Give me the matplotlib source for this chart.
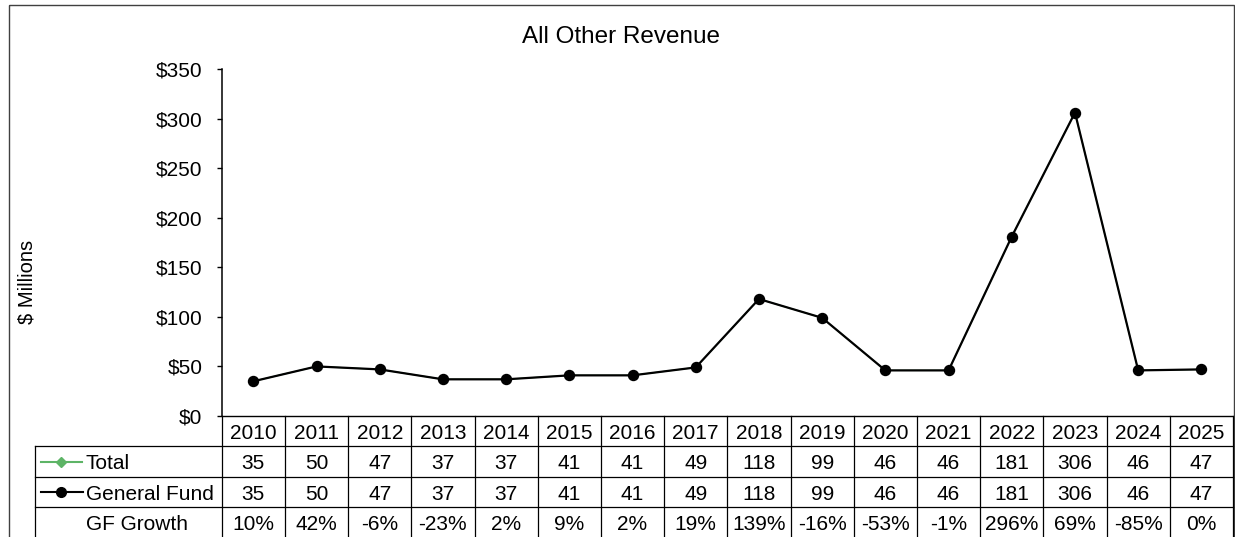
#!/usr/bin/env python3
"""All Other Revenue line chart with an Excel-style data table underneath."""

import matplotlib

matplotlib.use("Agg")

import matplotlib.pyplot as plt
import matplotlib.transforms as mtransforms
from matplotlib.lines import Line2D
from matplotlib.patches import Rectangle


YEARS = [2010, 2011, 2012, 2013, 2014, 2015, 2016, 2017,
         2018, 2019, 2020, 2021, 2022, 2023, 2024, 2025]
TOTAL = [35, 50, 47, 37, 37, 41, 41, 49, 118, 99, 46, 46, 181, 306, 46, 47]
GENERAL_FUND = [35, 50, 47, 37, 37, 41, 41, 49, 118, 99, 46, 46, 181, 306, 46, 47]
GF_GROWTH = ["10%", "42%", "-6%", "-23%", "2%", "9%", "2%", "19%",
             "139%", "-16%", "-53%", "-1%", "296%", "69%", "-85%", "0%"]
Y_TICKS = [0, 50, 100, 150, 200, 250, 300, 350]

W, H = 1235, 537
GREEN = "#5DB466"
FONT = "Liberation Sans"

plt.rcParams["font.family"] = [FONT, "DejaVu Sans"]

fig = plt.figure(figsize=(W / 100, H / 100), dpi=100)
fig.patch.set_facecolor("white")

# geometry in image pixels (origin top-left)
AX_L, AX_R, AX_T, AX_B = 221.7, 1233.0, 69.0, 416.0
ROW_EDGES = [416.0, 446.4, 476.8, 507.2, 537.6]
LABEL_X0 = 34.5
TEXT_X = 86.0

ax = fig.add_axes([AX_L / W, (H - AX_B) / H, (AX_R - AX_L) / W, (AX_B - AX_T) / H])
ax.set_facecolor("none")

x = list(range(len(YEARS)))
# Total sits underneath General Fund (same values), as in the source chart
ax.plot(x, TOTAL, color=GREEN, lw=0.9, marker="D", ms=4.5, zorder=3)
ax.plot(x, GENERAL_FUND, color="black", lw=1.6, marker="o", ms=7.2, zorder=4)

ax.set_xlim(-0.5, len(YEARS) - 0.5)
ax.set_ylim(0, 350)
ax.set_xticks([])
ax.set_yticks(Y_TICKS, [f"${v}" for v in Y_TICKS])
ax.tick_params(axis="y", direction="out", length=3.6, width=1.0, pad=10.3,
               labelsize=15, colors="black")
for side in ("top", "right"):
    ax.spines[side].set_visible(False)
ax.spines["left"].set_linewidth(1.1)
ax.spines["bottom"].set_linewidth(1.0)

# transform with image pixels measured from the top-left corner
px = mtransforms.Affine2D().scale(1, -1).translate(0, H)
col_px = mtransforms.blended_transform_factory(ax.transData, px)

line_kw = dict(color="black", lw=0.9, clip_on=False)

# horizontal table lines
for y in ROW_EDGES[1:]:
    fig.add_artist(Line2D([LABEL_X0, AX_R], [y, y], transform=px, **line_kw))
# vertical column separators
for i in range(len(YEARS) + 1):
    fig.add_artist(Line2D([i - 0.5, i - 0.5], [ROW_EDGES[0], ROW_EDGES[-1]],
                          transform=col_px, **line_kw))
fig.add_artist(Line2D([LABEL_X0, LABEL_X0], [ROW_EDGES[1], ROW_EDGES[-1]],
                      transform=px, **line_kw))

centers = [(a + b) / 2 for a, b in zip(ROW_EDGES[:-1], ROW_EDGES[1:])]
rows = [[str(y) for y in YEARS], [str(v) for v in TOTAL],
        [str(v) for v in GENERAL_FUND], GF_GROWTH]
for r, values in enumerate(rows):
    for i, txt in enumerate(values):
        ax.text(i, centers[r] + 7.5, txt, transform=col_px, ha="center",
                va="baseline", fontsize=15, clip_on=False)

# row labels with legend keys
fig.add_artist(Line2D([41, 82], [centers[1], centers[1]], transform=px,
                      color=GREEN, lw=1.5))
fig.add_artist(Line2D([61], [centers[1]], transform=px, color=GREEN,
                      marker="D", ms=5.5, lw=0))
fig.add_artist(Line2D([41, 83], [centers[2], centers[2]], transform=px,
                      color="black", lw=1.5))
fig.add_artist(Line2D([61], [centers[2]], transform=px, color="black",
                      marker="o", ms=7.0, lw=0))
for r, label in zip((1, 2, 3), ("Total", "General Fund", "GF Growth")):
    fig.text(TEXT_X, centers[r] + 7.5, label, transform=px, ha="left",
             va="baseline", fontsize=15)

fig.text(621, 43.3, "All Other Revenue", transform=px, ha="center",
         va="baseline", fontsize=17.5)
fig.text(27, 282, "$ Millions", transform=px, ha="center", va="center",
         rotation=90, fontsize=14.5)

# chart area border
fig.add_artist(Rectangle((9, 5), 1225, 600, transform=px, fill=False,
                         edgecolor="#404040", lw=1.0))

fig.savefig("out.png", dpi=100, facecolor="white")
